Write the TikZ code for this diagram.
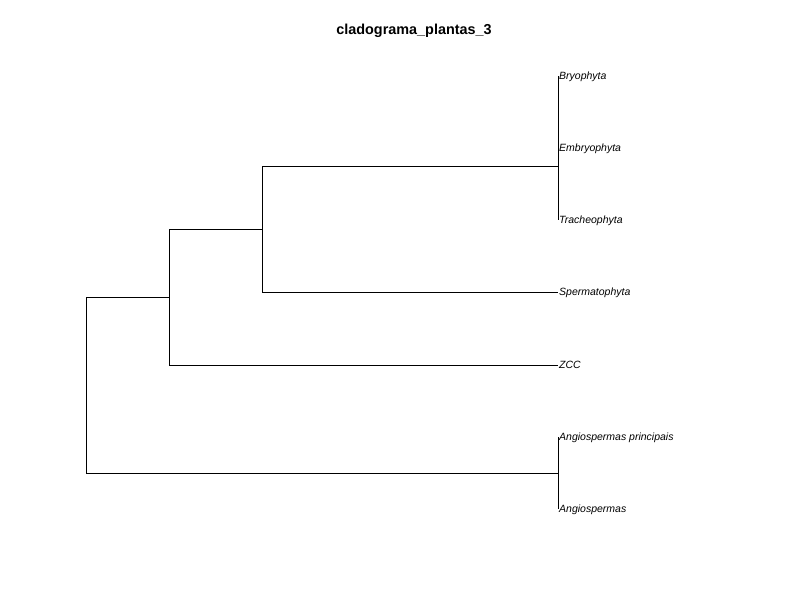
\documentclass[tikz,border=0pt]{standalone}
\usepackage{fontspec}
\setmainfont{Liberation Sans}
\usepackage{tikz}

\tikzset{tip/.style={anchor=west,inner xsep=1bp,inner ysep=0pt,text height=7.5bp,text depth=0pt,font=\fontsize{10.5bp}{12bp}\selectfont\itshape},
branch/.style={line width=0.8bp,black}}

\begin{document}
\begin{tikzpicture}[x=1bp,y=-1bp]
\useasboundingbox(0,0)rectangle(800,600);
\node[font=\fontsize{14.4bp}{17bp}\selectfont\bfseries](title)at(414,31){cladograma\_plantas\_3};
% internal nodes
\coordinate(R)at(86,385);
\coordinate(C)at(169,297);
\coordinate(B)at(262,229);
\coordinate(A)at(558,166);
\coordinate(D)at(558,473);
% tips
\node[tip](bryo)at(558,76){Bryophyta};
\node[tip](embryo)at(558,148){Embryophyta};
\node[tip](tracheo)at(558,220){Tracheophyta};
\node[tip](sperm)at(558,292){Spermatophyta};
\node[tip](zcc)at(558,365){ZCC};
\node[tip](angiop)at(558,437){Angiospermas principais};
\node[tip](angio)at(558,509){Angiospermas};
% branches
\draw[branch](R)|-(C);
\draw[branch](R)|-(D);
\draw[branch](C)|-(B);
\draw[branch](C)|-(zcc.west);
\draw[branch](B)|-(A);
\draw[branch](B)|-(sperm.west);
\draw[branch](A)|-(bryo.west);
\draw[branch](A)|-(embryo.west);
\draw[branch](A)|-(tracheo.west);
\draw[branch](D)|-(angiop.west);
\draw[branch](D)|-(angio.west);
\end{tikzpicture}
\end{document}
